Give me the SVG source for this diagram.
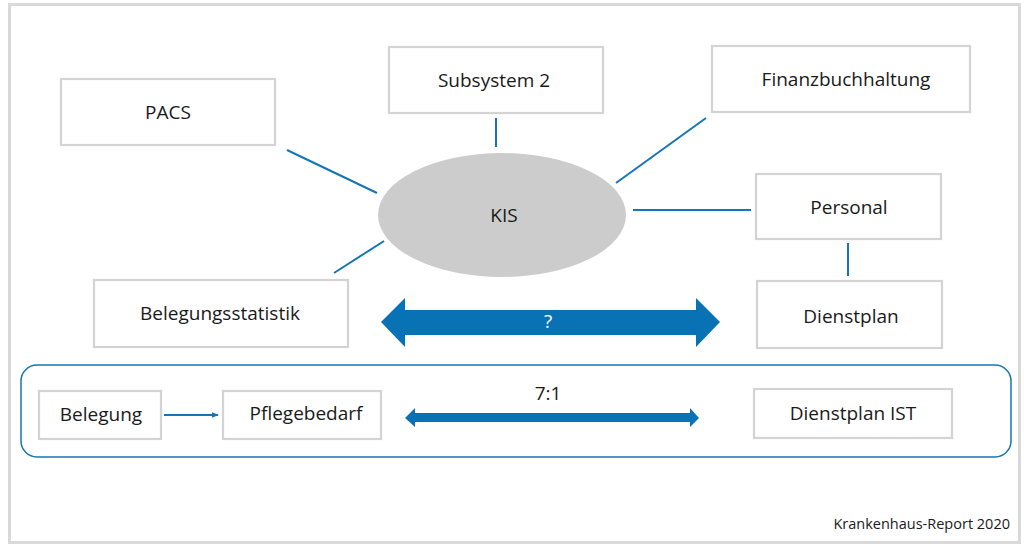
<svg xmlns="http://www.w3.org/2000/svg" width="1024" height="544" viewBox="0 0 1024 544">
  <style>
    .box { fill: #ffffff; stroke: #d3d3d3; stroke-width: 2.2; }
    .lbl { font-family: "Open Sans", "Noto Sans", sans-serif; font-size: 19px; fill: #1a1a1a; text-anchor: middle; dominant-baseline: central; }
    .link { stroke: #1476b6; stroke-width: 2; fill: none; }
    .blue { fill: #0872b5; }
  </style>
  <defs>
    <marker id="tip" viewBox="0 0 10 10" refX="9" refY="5" markerWidth="7" markerHeight="7" orient="auto" markerUnits="userSpaceOnUse">
      <path d="M0,1 L10,5 L0,9 Z" fill="#1476b6"/>
    </marker>
  </defs>

  <!-- page frame -->
  <rect x="0" y="0" width="1024" height="544" fill="#ffffff"/>
  <rect x="9.5" y="4.5" width="1010" height="538" fill="none" stroke="#d9d9d9" stroke-width="3"/>

  <!-- connectors -->
  <g id="connectors">
    <line class="link" x1="287" y1="150" x2="377" y2="193"/>
    <line class="link" x1="496" y1="118" x2="496" y2="147"/>
    <line class="link" x1="706" y1="118" x2="616" y2="183"/>
    <line class="link" x1="633" y1="210" x2="751" y2="210"/>
    <line class="link" x1="848" y1="243" x2="848" y2="276"/>
    <line class="link" x1="384" y1="241" x2="334" y2="273"/>
    <line class="link" x1="164" y1="415" x2="218" y2="415" stroke-width="1.5" marker-end="url(#tip)"/>
    <!-- wide double arrow -->
    <path class="blue" d="M381,322 L405,298 L405,310 L696,310 L696,298 L720,322 L696,347 L696,335 L405,335 L405,347 Z"/>
    <text class="lbl" x="548" y="321" style="fill:#ffffff">?</text>
    <!-- thin double arrow -->
    <path class="blue" d="M405,418 L415,408 L415,413 L690,413 L690,408 L699,418 L690,427 L690,422 L415,422 L415,427 Z"/>
    <text class="lbl" x="548" y="393">7:1</text>
  </g>

  <g id="kis">
    <ellipse cx="502" cy="215" rx="124" ry="62" fill="#cccccc"/>
    <text class="lbl" x="504" y="215">KIS</text>
  </g>

  <g id="pacs">
    <rect class="box" x="61" y="79" width="214" height="66"/>
    <text class="lbl" x="168" y="112">PACS</text>
  </g>
  <g id="subsystem2">
    <rect class="box" x="389" y="47" width="214" height="66"/>
    <text class="lbl" x="494" y="80">Subsystem 2</text>
  </g>
  <g id="finanzbuchhaltung">
    <rect class="box" x="712" y="46" width="258" height="66"/>
    <text class="lbl" x="846" y="79">Finanzbuchhaltung</text>
  </g>
  <g id="personal">
    <rect class="box" x="756" y="174" width="185" height="65"/>
    <text class="lbl" x="849" y="207">Personal</text>
  </g>
  <g id="dienstplan">
    <rect class="box" x="757" y="281" width="185" height="67"/>
    <text class="lbl" x="851" y="316">Dienstplan</text>
  </g>
  <g id="belegungsstatistik">
    <rect class="box" x="94" y="280" width="254" height="67"/>
    <text class="lbl" x="220" y="313">Belegungsstatistik</text>
  </g>

  <!-- lower panel -->
  <g id="panel">
    <rect x="21" y="365" width="990" height="92" rx="16" fill="none" stroke="#1476b6" stroke-width="1.5"/>
  </g>
  <g id="belegung">
    <rect class="box" x="39" y="391" width="122" height="48"/>
    <text class="lbl" x="101" y="414">Belegung</text>
  </g>
  <g id="pflegebedarf">
    <rect class="box" x="223" y="391" width="158" height="48"/>
    <text class="lbl" x="306" y="413">Pflegebedarf</text>
  </g>
  <g id="dienstplan-ist">
    <rect class="box" x="754" y="389" width="198" height="49"/>
    <text class="lbl" x="853" y="413">Dienstplan IST</text>
  </g>

  <text x="1010" y="529" font-family="'Open Sans', 'Noto Sans', sans-serif" font-size="14.5" fill="#1a1a1a" text-anchor="end">Krankenhaus-Report 2020</text>
</svg>
